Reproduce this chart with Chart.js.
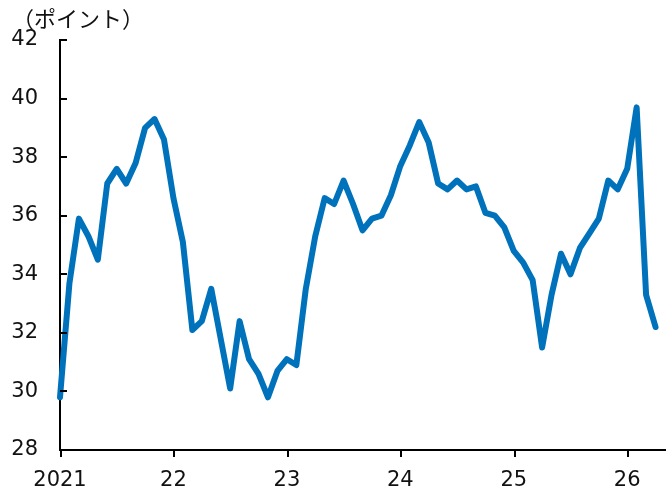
<!DOCTYPE html>
<html>
<head>
<meta charset="utf-8">
<script src="https://cdn.jsdelivr.net/npm/chart.js"></script>
<style>
  html, body { margin: 0; padding: 0; background: #fff; }
  #wrap { width: 667px; height: 491px; position: relative; }
</style>
</head>
<body>
<div id="wrap"><canvas id="chart"></canvas></div>
<script>
// monthly index, Jan 2021 .. Apr 2026
const yearLabels = ['2021', '22', '23', '24', '25', '26'];
const values2021 = [29.8, 33.7, 35.9, 35.3, 34.5, 37.1, 37.6, 37.1, 37.8, 39.0, 39.3, 38.6];
const values2022 = [36.6, 35.1, 32.1, 32.4, 33.5, 31.8, 30.1, 32.4, 31.1, 30.6, 29.8, 30.7];
const values2023 = [31.1, 30.9, 33.5, 35.3, 36.6, 36.4, 37.2, 36.4, 35.5, 35.9, 36.0, 36.7];
const values2024 = [37.7, 38.4, 39.2, 38.5, 37.1, 36.9, 37.2, 36.9, 37.0, 36.1, 36.0, 35.6];
const values2025 = [34.8, 34.4, 33.8, 31.5, 33.3, 34.7, 34.0, 34.9, 35.4, 35.9, 37.2, 36.9];
const values2026 = [37.6, 39.7, 33.3, 32.2];
const yTicks = [28, 30, 32, 34, 36, 38, 40, 42];
const unitLabel = '（ポイント）';

const allValues = [].concat(values2021, values2022, values2023, values2024, values2025, values2026);
const points = allValues.map((v, i) => ({ x: i, y: v }));

const tickFont = { family: 'DejaVu Sans', size: 21 };

// y ticks point into the plot, x ticks hang below the axis
const axisMarks = {
  id: 'axisMarks',
  afterDraw(chart) {
    const c = chart.ctx;
    const xs = chart.scales.x, ys = chart.scales.y;
    const left = chart.chartArea.left;
    c.save();
    c.strokeStyle = '#000';
    c.lineWidth = 2;
    yTicks.forEach(t => {
      const y = Math.round(ys.getPixelForValue(t));
      c.beginPath();
      c.moveTo(left, y);
      c.lineTo(left + 7, y);
      c.stroke();
    });
    for (let m = 0; m <= 60; m += 12) {
      const x = Math.round(xs.getPixelForValue(m)) + 1;
      c.beginPath();
      c.moveTo(x, chart.chartArea.bottom);
      c.lineTo(x, chart.chartArea.bottom + 7);
      c.stroke();
    }
    c.fillStyle = '#111';
    c.font = '22px "Noto Sans CJK JP"';
    c.textBaseline = 'middle';
    c.textAlign = 'left';
    c.fillText(unitLabel, 12, 19);
    c.restore();
  }
};

new Chart(document.getElementById('chart'), {
  type: 'line',
  data: {
    datasets: [{
      data: points,
      borderColor: '#0072BC',
      borderWidth: 6,
      pointRadius: 0,
      tension: 0,
      borderJoinStyle: 'round',
      borderCapStyle: 'round',
      clip: false
    }]
  },
  options: {
    responsive: true,
    maintainAspectRatio: false,
    animation: false,
    layout: { padding: { top: 40, right: 2, left: 0, bottom: 0 } },
    plugins: { legend: { display: false }, tooltip: { enabled: false } },
    scales: {
      x: {
        type: 'linear',
        min: 0,
        max: 64,
        afterFit(scale) { scale.height = 41; },
        afterBuildTicks(scale) {
          scale.ticks = yearLabels.map((_, i) => ({ value: i * 12 }));
        },
        ticks: {
          color: '#111',
          font: tickFont,
          padding: 12,
          maxRotation: 0,
          autoSkip: false,
          callback: (v) => yearLabels[v / 12]
        },
        grid: { display: false, drawTicks: true, tickLength: 6 },
        border: { display: true, color: '#000', width: 2 }
      },
      y: {
        min: 28,
        max: 42,
        afterFit(scale) { scale.width = 60; },
        afterBuildTicks(scale) {
          scale.ticks = yTicks.map(v => ({ value: v }));
        },
        ticks: {
          color: '#111',
          font: tickFont,
          padding: 22
        },
        grid: { display: false, drawTicks: false },
        border: { display: true, color: '#000', width: 2 }
      }
    }
  },
  plugins: [axisMarks]
});
</script>
</body>
</html>
